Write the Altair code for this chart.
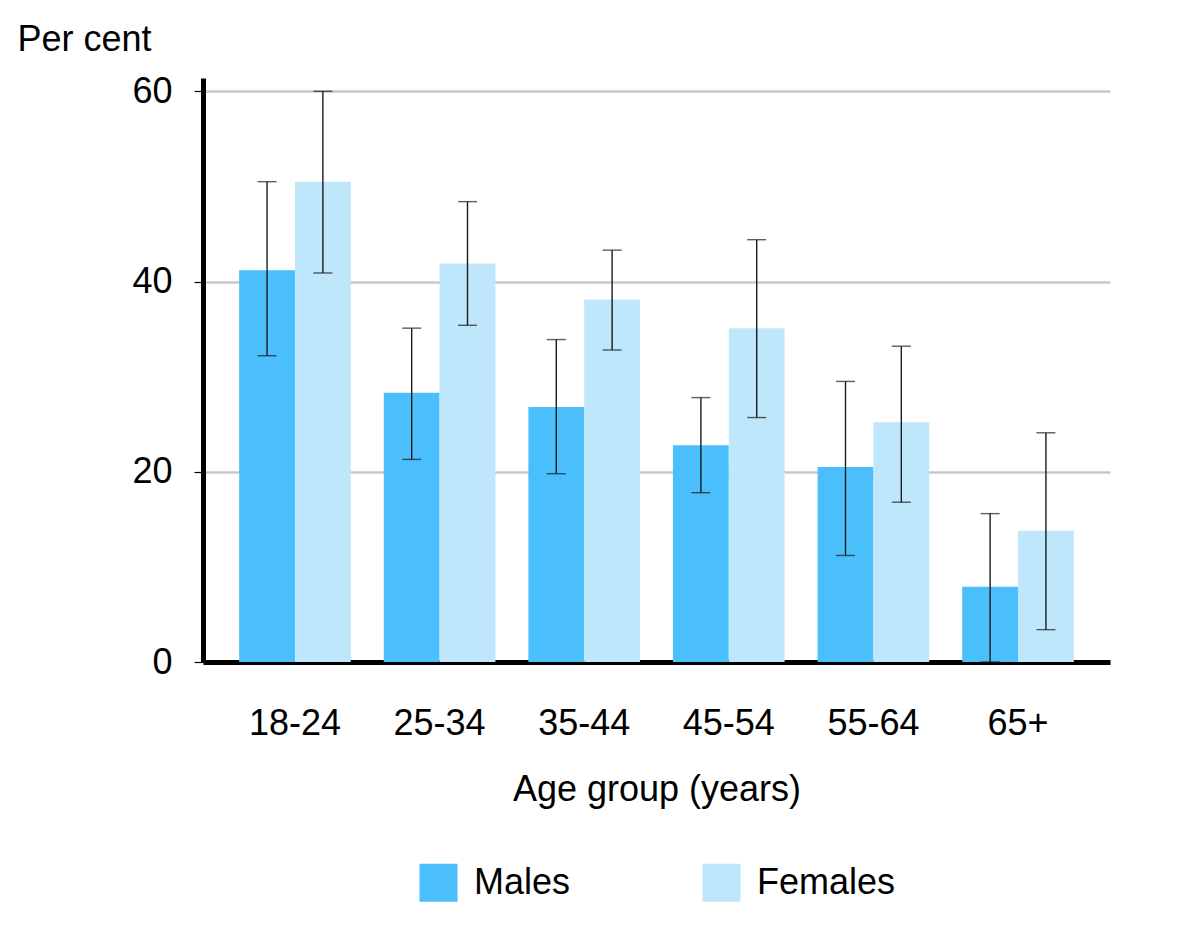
import altair as alt
import pandas as pd

ages = ["18-24", "25-34", "35-44", "45-54", "55-64", "65+"]
sexes = ["Males", "Females"]
males = [41.2, 28.3, 26.8, 22.8, 20.5, 7.9]
males_lo = [32.2, 21.3, 19.8, 17.8, 11.2, 0.0]
males_hi = [50.5, 35.1, 33.9, 27.8, 29.5, 15.6]
females = [50.5, 41.9, 38.1, 35.1, 25.2, 13.8]
females_lo = [40.9, 35.4, 32.8, 25.7, 16.8, 3.4]
females_hi = [60.0, 48.4, 43.3, 44.4, 33.2, 24.1]
colors = ["#4BBFFB", "#BFE7FB"]

rows = []
for i, a in enumerate(ages):
    rows.append({"age": a, "sex": "Males", "v": males[i], "lo": males_lo[i], "hi": males_hi[i]})
    rows.append({"age": a, "sex": "Females", "v": females[i], "lo": females_lo[i], "hi": females_hi[i]})
df = pd.DataFrame(rows)

FONT = "Liberation Sans"
FS = 36

yscale = alt.Scale(domain=[0, 61.4], nice=False, zero=True)

base = alt.Chart(df).encode(
    x=alt.X(
        "age:N",
        sort=ages,
        scale=alt.Scale(paddingInner=0.228, paddingOuter=0.25),
        axis=alt.Axis(
            title="Age group (years)",
            labelAngle=0,
            ticks=False,
            domainColor="black",
            domainWidth=5,
            labelFontSize=FS,
            labelPadding=44,
            labelColor="black",
            titleFontSize=FS,
            titleFontWeight="normal",
            titleColor="black",
            titlePadding=31,
        ),
    ),
    xOffset=alt.XOffset("sex:N", sort=sexes, scale=alt.Scale(paddingInner=0, paddingOuter=0)),
)

bars = base.mark_bar().encode(
    y=alt.Y(
        "v:Q",
        scale=yscale,
        axis=alt.Axis(
            values=[0, 20, 40, 60],
            grid=True,
            gridColor="#c8c8c8",
            gridWidth=2.5,
            domainColor="black",
            domainWidth=5,
            tickColor="black",
            tickSize=9,
            tickWidth=1.2,
            labelFontSize=FS,
            labelPadding=22,
            labelColor="black",
            title="Per cent",
            titleAngle=0,
            titleX=-186,
            titleY=-28,
            titleAlign="left",
            titleBaseline="alphabetic",
            titleFontSize=FS,
            titleFontWeight="normal",
            titleColor="black",
        ),
    ),
    color=alt.Color(
        "sex:N",
        sort=sexes,
        scale=alt.Scale(domain=sexes, range=colors),
        legend=alt.Legend(
            title=None,
            orient="none",
            legendX=216,
            legendY=785,
            direction="horizontal",
            symbolType="square",
            symbolSize=1450,
            symbolStrokeWidth=0,
            symbolOpacity=1,
            labelFontSize=FS,
            labelColor="black",
            labelOffset=16,
            columnPadding=131,
        ),
    ),
)

rules = base.mark_rule(color="#1a1a1a", strokeWidth=1.4).encode(
    y=alt.Y("lo:Q", scale=yscale), y2="hi:Q"
)
cap_hi = base.mark_tick(color="#1a1a1a", thickness=1.4, size=19).encode(
    y=alt.Y("hi:Q", scale=yscale)
)
cap_lo = base.mark_tick(color="#1a1a1a", thickness=1.4, size=19).encode(
    y=alt.Y("lo:Q", scale=yscale)
)

chart = (
    alt.layer(bars, rules, cap_hi, cap_lo)
    .properties(
        width=907,
        height=584,
        padding={"left": 195, "top": 70, "right": 80, "bottom": 260},
        autosize="none",
    )
    .configure(font=FONT)
    .configure_view(stroke=None)
)

chart.save("out.html", embed_options={"renderer": "svg", "actions": False})
